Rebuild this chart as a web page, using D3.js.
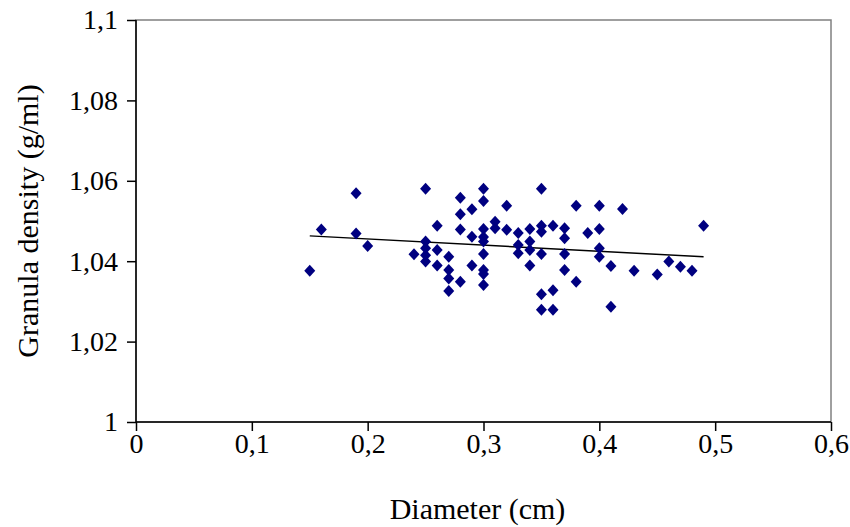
<!DOCTYPE html>
<html>
<head>
    <meta charset="utf-8">
    <script src="https://d3js.org/d3.v7.min.js"></script>
    <style>
        body { margin: 0; background: #fff; }
        text { font-family: "Liberation Serif", "Times New Roman", serif; fill: #000; }
    </style>
</head>
<body>
<svg id="chart"></svg>
<script>
    // points: diameter (cm) and density (g/ml)
    var diameter = [
        0.15, 0.16, 0.19, 0.19, 0.20, 0.24,
        0.25, 0.25, 0.25, 0.25, 0.25,
        0.26, 0.26, 0.26,
        0.27, 0.27, 0.27, 0.27,
        0.28, 0.28, 0.28, 0.28,
        0.29, 0.29, 0.29,
        0.30, 0.30, 0.30, 0.30, 0.30, 0.30, 0.30, 0.30, 0.30,
        0.31, 0.31,
        0.32, 0.32,
        0.33, 0.33, 0.33,
        0.34, 0.34, 0.34, 0.34,
        0.35, 0.35, 0.35, 0.35, 0.35, 0.35,
        0.36, 0.36, 0.36,
        0.37, 0.37, 0.37, 0.37,
        0.38, 0.38,
        0.39,
        0.40, 0.40, 0.40, 0.40,
        0.41, 0.41,
        0.42, 0.43, 0.45, 0.46, 0.47, 0.48, 0.49
    ];
    var density = [
        1.0376, 1.0479, 1.0569, 1.0469, 1.0438, 1.0417,
        1.0580, 1.0449, 1.0432, 1.0415, 1.0399,
        1.0488, 1.0428, 1.0389,
        1.0411, 1.0378, 1.0357, 1.0326,
        1.0558, 1.0517, 1.0479, 1.0349,
        1.0529, 1.0461, 1.0389,
        1.0580, 1.0550, 1.0480, 1.0460, 1.0449, 1.0418, 1.0378, 1.0368, 1.0341,
        1.0498, 1.0482,
        1.0538, 1.0478,
        1.0470, 1.0440, 1.0420,
        1.0480, 1.0449, 1.0428, 1.0389,
        1.0580, 1.0488, 1.0473, 1.0418, 1.0318, 1.0279,
        1.0488, 1.0328, 1.0279,
        1.0482, 1.0457, 1.0418, 1.0378,
        1.0538, 1.0349,
        1.0470,
        1.0538, 1.0480, 1.0432, 1.0411,
        1.0388, 1.0287,
        1.0530, 1.0376, 1.0367, 1.0399, 1.0386, 1.0376, 1.0488
    ];

    // linear trend line ends
    var trendX = [0.15, 0.49];
    var trendY = [1.0463, 1.0411];

    var xTicks = [0, 0.1, 0.2, 0.3, 0.4, 0.5, 0.6];
    var yTicks = [1, 1.02, 1.04, 1.06, 1.08, 1.1];

    var width = 850, height = 527;
    var margin = { top: 20, right: 19, bottom: 105, left: 136 };

    var svg = d3.select("#chart")
        .attr("width", width)
        .attr("height", height);

    var x = d3.scaleLinear()
        .domain([0, 0.6])
        .range([margin.left, width - margin.right]);

    var y = d3.scaleLinear()
        .domain([1, 1.1])
        .range([height - margin.bottom, margin.top]);

    var fmt = function (d) { return String(+d.toFixed(2)).replace(".", ","); };

    // plot area border (grey on top and right)
    svg.append("rect")
        .attr("x", x(0))
        .attr("y", y(1.1))
        .attr("width", x(0.6) - x(0))
        .attr("height", y(1) - y(1.1))
        .attr("fill", "none")
        .attr("stroke", "#808080")
        .attr("stroke-width", 1.5);

    // y axis
    var yAxis = svg.append("g")
        .attr("transform", "translate(" + x(0) + ",0)")
        .call(d3.axisLeft(y).tickValues(yTicks).tickFormat(fmt).tickSize(9).tickPadding(9));

    // x axis
    var xAxis = svg.append("g")
        .attr("transform", "translate(0," + y(1) + ")")
        .call(d3.axisBottom(x).tickValues(xTicks).tickFormat(fmt).tickSize(9).tickPadding(2));

    [xAxis, yAxis].forEach(function (a) {
        a.select(".domain").attr("stroke", "#000").attr("stroke-width", 1.5);
        a.selectAll(".tick line").attr("stroke", "#000").attr("stroke-width", 1.5);
        a.selectAll(".tick text")
            .style("font-size", "28px")
            .style("font-family", "'Liberation Serif', serif");
    });
    xAxis.select(".domain").attr("d", "M" + x(0) + ",0H" + x(0.6));
    yAxis.select(".domain").attr("d", "M0," + y(1) + "V" + y(1.1));

    // trend line
    svg.append("line")
        .attr("x1", x(trendX[0]))
        .attr("y1", y(trendY[0]))
        .attr("x2", x(trendX[1]))
        .attr("y2", y(trendY[1]))
        .attr("stroke", "#000")
        .attr("stroke-width", 1.5);

    // diamond markers
    var diamond = "M0,-6L5.5,0L0,6L-5.5,0Z";
    svg.append("g")
        .selectAll("path")
        .data(diameter.map(function (d, i) { return [d, density[i]]; }))
        .join("path")
        .attr("d", diamond)
        .attr("transform", function (d) { return "translate(" + x(d[0]) + "," + y(d[1]) + ")"; })
        .attr("fill", "#000080");

    // axis titles
    svg.append("text")
        .attr("x", (x(0) + x(0.6)) / 2 - 6)
        .attr("y", 519)
        .attr("text-anchor", "middle")
        .style("font-size", "30px")
        .text("Diameter (cm)");

    svg.append("text")
        .attr("transform", "translate(38," + (y(1) + y(1.1)) / 2 + ") rotate(-90)")
        .attr("text-anchor", "middle")
        .style("font-size", "30px")
        .text("Granula density (g/ml)");
</script>
</body>
</html>
